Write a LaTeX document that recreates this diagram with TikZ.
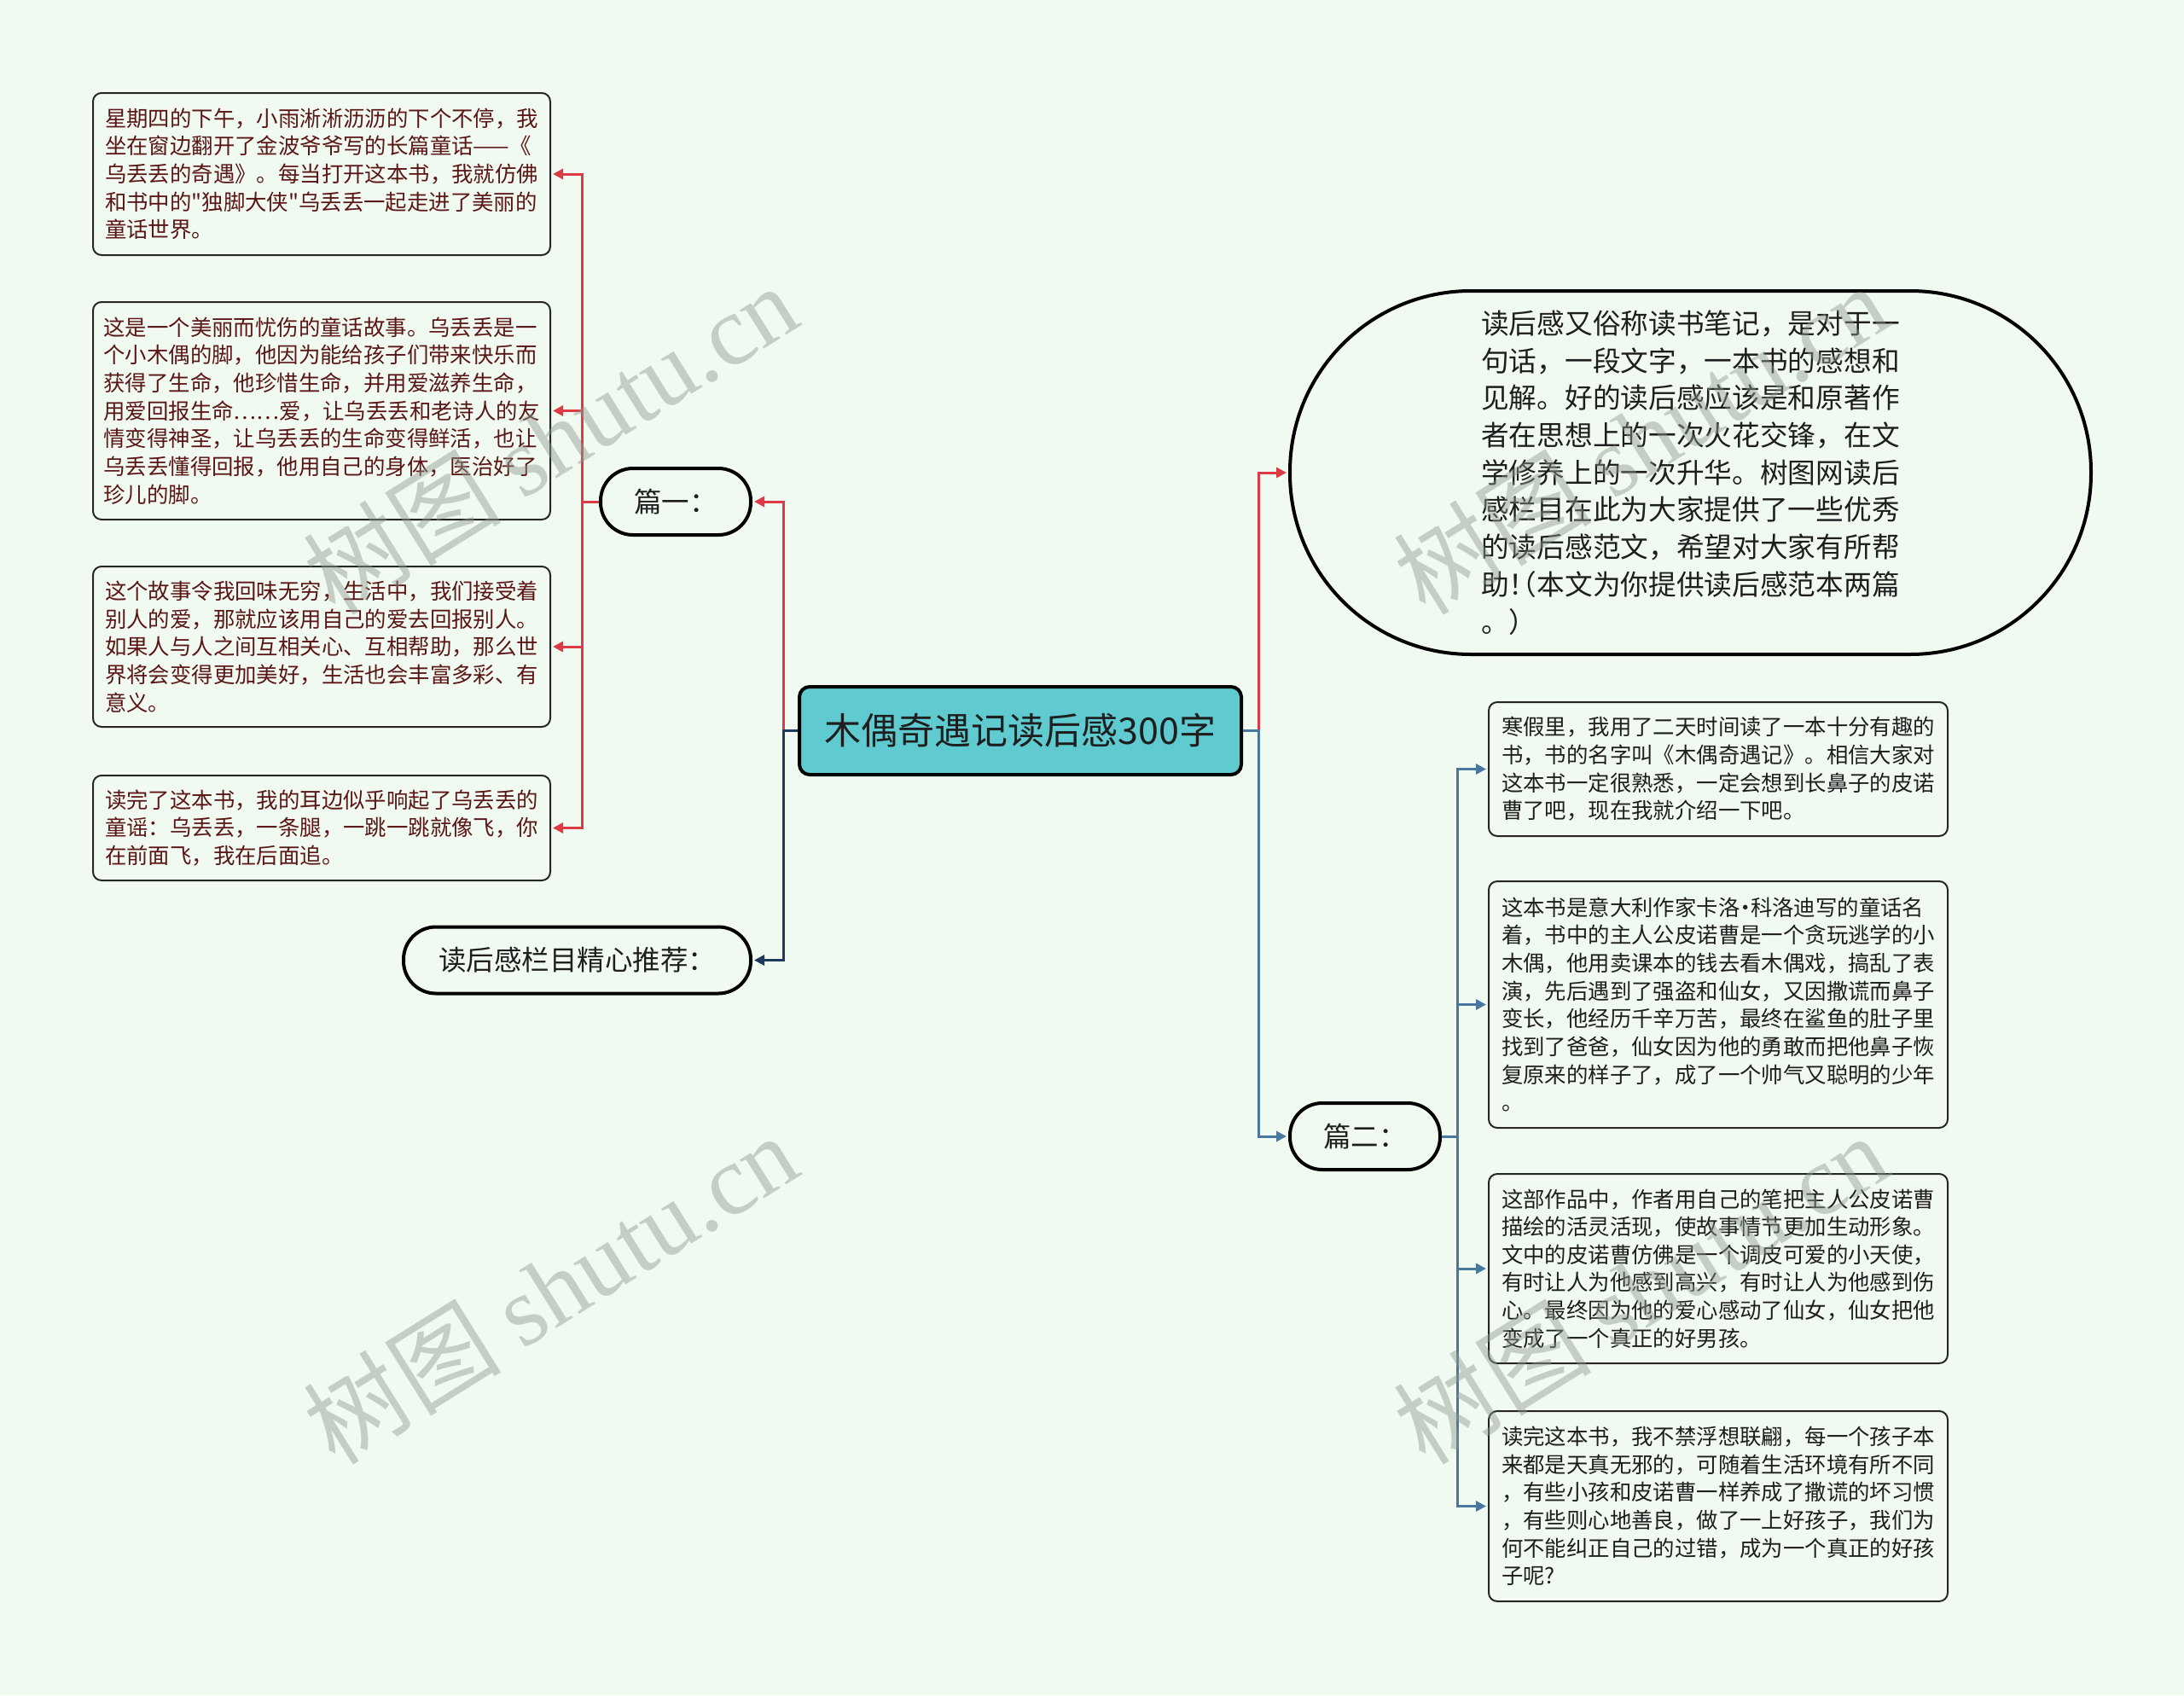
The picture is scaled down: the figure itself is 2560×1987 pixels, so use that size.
\documentclass[tikz,border=0pt]{standalone}
\usepackage{fontspec}
\setmainfont{Noto Sans CJK SC}[Ligatures=TeXOff]
\newfontfamily\wmserif{Liberation Serif}
\newcommand{\hw}[1]{{\addfontfeature{RawFeature=+halt}#1}}
\usetikzlibrary{arrows.meta}
\definecolor{bgc}{HTML}{F1FAF0}
\definecolor{redc}{HTML}{DC3B46}
\definecolor{bluec}{HTML}{4878A0}
\definecolor{navyc}{HTML}{1E3A5F}
\definecolor{tealc}{HTML}{5FCBD0}
\definecolor{ltext}{HTML}{5A1616}
\definecolor{rtext}{HTML}{1E1E1E}
\definecolor{wmc}{HTML}{909A92}
\begin{document}
\begin{tikzpicture}[x=1pt,y=-1pt,
  tip/.style={-{Triangle[length=12pt,width=12pt]}, shorten >=2pt},
  redline/.style={draw=redc, line width=3pt},
  blueline/.style={draw=bluec, line width=3pt},
  navyline/.style={draw=navyc, line width=3pt},
  root/.style={draw=black, line width=4pt, fill=tealc, rounded corners=12pt,
    minimum width=518pt, minimum height=103pt, inner sep=0pt, text=rtext,
    font=\fontsize{43}{50}\selectfont},
  pill/.style={draw=black, line width=4pt, fill=bgc, rounded corners=38pt,
    minimum height=78pt, inner sep=0pt, text=rtext,
    font=\fontsize{32.5}{40}\selectfont},
  lbox/.style={draw=black!85, line width=2pt, fill=bgc, rounded corners=10pt,
    minimum width=536pt, inner sep=0pt, align=left, text=ltext,
    font=\fontsize{25.4}{32.65}\selectfont},
  rbox/.style={lbox, minimum width=538pt, text=rtext},
  wm/.style={rotate=32, text=wmc, text opacity=0.45, inner sep=0pt,
    font=\fontsize{116}{128}\selectfont}
]
\fill[bgc] (0,0) rectangle (2560,1987);
\useasboundingbox (0,0) rectangle (2560,1987);

% central node
\node[root] (c) at (1196,856.5) {木偶奇遇记读后感300字};

% left branch
\node[pill, minimum width=176pt] (p1) at (792,588) {篇一：};
\node[pill, minimum width=407pt] (rec) at (676.5,1125.5) {读后感栏目精心推荐：};

\node[lbox, minimum height=190pt] (L1) at (377,204) {星期四的下午，小雨淅淅沥沥的下个不停，我\\坐在窗边翻开了金波爷爷写的长篇童话——《\\乌丢丢的奇遇》。每当打开这本书，我就仿佛\\和书中的"独脚大侠"乌丢丢一起走进了美丽的\\童话世界。};
\node[lbox, minimum height=255pt] (L2) at (377,481.5) {这是一个美丽而忧伤的童话故事。乌丢丢是一\\个小木偶的脚，他因为能给孩子们带来快乐而\\获得了生命，他珍惜生命，并用爱滋养生命，\\用爱回报生命……爱，让乌丢丢和老诗人的友\\情变得神圣，让乌丢丢的生命变得鲜活，也让\\乌丢丢懂得回报，他用自己的身体，医治好了\\珍儿的脚。};
\node[lbox, minimum height=188pt] (L3) at (377,758) {这个故事令我回味无穷，生活中，我们接受着\\别人的爱，那就应该用自己的爱去回报别人。\\如果人与人之间互相关心、互相帮助，那么世\\界将会变得更加美好，生活也会丰富多彩、有\\意义。};
\node[lbox, minimum height=123pt] (L4) at (377,970.5) {读完了这本书，我的耳边似乎响起了乌丢丢的\\童谣：乌丢丢，一条腿，一跳一跳就像飞，你\\在前面飞，我在后面追。};

% right branch
\node[pill, rounded corners=212pt, minimum width=939pt, minimum height=426pt,
  align=left, font=\fontsize{32.7}{43.7}\selectfont] (big) at (1981.5,554)
  {读后感又俗称读书笔记，是对于一\\句话，一段文字，一本书的感想和\\见解。好的读后感应该是和原著作\\者在思想上的一次火花交锋，在文\\学修养上的一次升华。树图网读后\\感栏目在此为大家提供了一些优秀\\的读后感范文，希望对大家有所帮\\助\hw{！（}本文为你提供读后感范本两篇\\。）};
\node[pill, minimum width=176pt] (p2) at (1600,1332) {篇二：};

\node[rbox, minimum height=157pt] (R1) at (2014,901.5) {寒假里，我用了二天时间读了一本十分有趣的\\书，书的名字叫《木偶奇遇记》。相信大家对\\这本书一定很熟悉，一定会想到长鼻子的皮诺\\曹了吧，现在我就介绍一下吧。};
\node[rbox, minimum height=289pt] (R2) at (2014,1177.5) {这本书是意大利作家卡洛\hw{·}科洛迪写的童话名\\着，书中的主人公皮诺曹是一个贪玩逃学的小\\木偶，他用卖课本的钱去看木偶戏，搞乱了表\\演，先后遇到了强盗和仙女，又因撒谎而鼻子\\变长，他经历千辛万苦，最终在鲨鱼的肚子里\\找到了爸爸，仙女因为他的勇敢而把他鼻子恢\\复原来的样子了，成了一个帅气又聪明的少年\\。};
\node[rbox, minimum height=222pt] (R3) at (2014,1487) {这部作品中，作者用自己的笔把主人公皮诺曹\\描绘的活灵活现，使故事情节更加生动形象。\\文中的皮诺曹仿佛是一个调皮可爱的小天使，\\有时让人为他感到高兴，有时让人为他感到伤\\心。最终因为他的爱心感动了仙女，仙女把他\\变成了一个真正的好男孩。};
\node[rbox, minimum height=223pt] (R4) at (2014,1765.5) {读完这本书，我不禁浮想联翩，每一个孩子本\\来都是天真无邪的，可随着生活环境有所不同\\，有些小孩和皮诺曹一样养成了撒谎的坏习惯\\，有些则心地善良，做了一上好孩子，我们为\\何不能纠正自己的过错，成为一个真正的好孩\\子呢?};

% connectors
\coordinate (jl) at (918,856.5);
\coordinate (bl) at (682,588);
\coordinate (jr) at (1475,856.5);
\coordinate (br) at (1708,1332);

\draw[redline, tip] (jl) |- (p1.east);
\draw[navyline, tip] (c.west) -- (jl) |- (rec.east);
\draw[redline] (p1.west) -- (bl);
\foreach \n in {L1,L2,L3,L4} \draw[redline, tip] (bl) |- (\n.east);

\draw[redline, tip] (jr) |- (big.west);
\draw[blueline, tip] (c.east) -- (jr) |- (p2.west);
\draw[blueline] (p2.east) -- (br);
\foreach \n in {R1,R2,R3,R4} \draw[blueline, tip] (br) |- (\n.west);

% watermarks
\node[wm] (w1) at (645,514) {树图 {\wmserif shutu.cn}};
\node[wm] (w2) at (645,1510) {树图 {\wmserif shutu.cn}};
\node[wm] (w3) at (1923,514) {树图 {\wmserif shutu.cn}};
\node[wm] (w4) at (1923,1510) {树图 {\wmserif shutu.cn}};
\end{tikzpicture}
\end{document}
